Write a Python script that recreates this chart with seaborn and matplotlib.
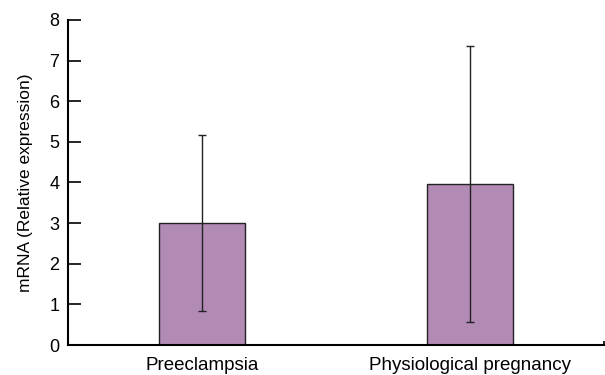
import matplotlib
matplotlib.use("Agg")
import matplotlib.pyplot as plt
import pandas as pd
import seaborn as sns

groups = ["Preeclampsia", "Physiological pregnancy"]
means = [3.0, 3.96]
errors = [2.17, 3.4]

sns.set_style("ticks")
plt.rcParams['font.family'] = ['Liberation Sans', 'DejaVu Sans']
plt.rcParams['text.color'] = 'black'
plt.rcParams['axes.labelcolor'] = 'black'
plt.rcParams['xtick.color'] = 'black'
plt.rcParams['ytick.color'] = 'black'

df = pd.DataFrame({"group": groups, "value": means})

fig = plt.figure(figsize=(6.05, 3.75), dpi=100)
ax = fig.add_axes([0.112, 0.08, 0.886, 0.867])

sns.barplot(data=df, x="group", y="value", color="#b28bb5", saturation=1,
            width=0.32, edgecolor="#222222", linewidth=1, errorbar=None, ax=ax)
ax.errorbar(range(len(groups)), means, yerr=errors, fmt="none",
            ecolor="#222222", elinewidth=1, capsize=3, capthick=1)

ax.set_xlim(-0.5, 1.5)
ax.set_ylim(0, 8)
ax.set_yticks(range(0, 9))
ax.set_xticks([1.5], minor=True)
ax.set_xlabel("")
ax.set_ylabel("mRNA (Relative expression)", fontsize=12.5, labelpad=12)
ax.tick_params(axis="y", direction="in", length=9, width=1.2, labelsize=13, pad=6)
ax.tick_params(axis="x", which="major", length=0, labelsize=13.5, pad=9)
ax.tick_params(axis="x", which="minor", direction="in", length=3, width=1.2)
for s in ["top", "right"]:
    ax.spines[s].set_visible(False)
ax.spines["left"].set_linewidth(1.5)
ax.spines["bottom"].set_linewidth(1.5)
ax.spines["left"].set_color("black")
ax.spines["bottom"].set_color("black")

fig.savefig("out.png", dpi=100)
